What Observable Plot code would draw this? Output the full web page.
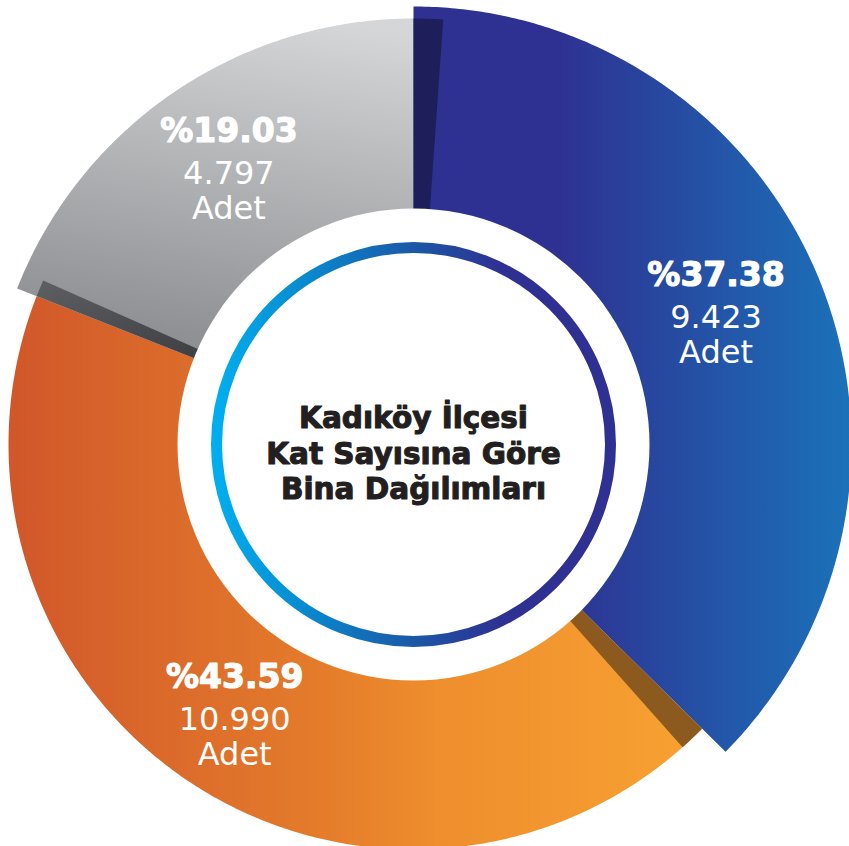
<!DOCTYPE html>
<html><head><meta charset="utf-8">
<script src="https://cdn.jsdelivr.net/npm/d3@7"></script>
<script src="https://cdn.jsdelivr.net/npm/@observablehq/plot@0.6"></script>
<style>html,body{margin:0;padding:0;background:#fff;overflow:hidden}</style>
</head><body><div id="chart"></div>
<script>
// ---- data ----
const counts = [9423, 10990, 4797];
const countLabels = ["9.423", "10.990", "4.797"];
const percentLabels = ["%37.38", "%43.59", "%19.03"];
const unitLabel = "Adet";
const titleLines = ["Kadıköy İlçesi", "Kat Sayısına Göre", "Bina Dağılımları"];

// ---- layout / style ----
const W = 849, H = 846, CX = 413, CY = 444;
const outerR = [438, 405, 426];
const innerR = 226, holeR = 236, ringR = 197, labelR = 328;
const sliceFill = ["url(#g-blue)", "url(#g-orange)", "url(#g-gray)"];
const bandFill = ["#1E1F5A", "#8C5A1F", "url(#g-band)"];
const bandDeg = [4, 3.8, 2.4];
const drawOrder = [1, 2, 0];

const pie = d3.pie().sort(null).value(d => d)(counts);

function sectorPts(a0, a1, r0, r1) {
  const n = Math.max(2, Math.ceil((a1 - a0) / (Math.PI / 360)));
  const pts = [];
  for (let k = 0; k <= n; k++) { const a = a0 + (a1 - a0) * k / n; pts.push({x: r1 * Math.sin(a), y: r1 * Math.cos(a)}); }
  for (let k = n; k >= 0; k--) { const a = a0 + (a1 - a0) * k / n; pts.push({x: r0 * Math.sin(a), y: r0 * Math.cos(a)}); }
  return pts;
}
const mid = d => (d.startAngle + d.endAngle) / 2;

function defs() {
  const d = d3.create("svg:defs");
  const lg = (id, x1, y1, x2, y2, stops) => {
    const g = d.append("linearGradient").attr("id", id)
      .attr("x1", x1).attr("y1", y1).attr("x2", x2).attr("y2", y2);
    stops.forEach(([o, c]) => g.append("stop").attr("offset", o).attr("stop-color", c));
  };
  lg("g-blue", 0, 0, 1, 0, [[0, "#2E3192"], [0.33, "#2E3192"], [1, "#1B72B9"]]);
  lg("g-orange", 0, 0, 1, 0, [[0, "#D1572A"], [0.45, "#E47C2B"], [0.62, "#EE8E2D"], [1, "#F8A232"]]);
  lg("g-gray", 0.75, 0, 0.55, 1, [[0, "#D5D6D8"], [1, "#8B8D90"]]);
  lg("g-band", 0, 0, 1, 1, [[0, "#5E5F62"], [1, "#3D3E42"]]);
  lg("g-ring", 0, 0, 1, 0, [[0, "#00AEEF"], [0.25, "#0A85CB"], [0.5, "#1B58A7"], [0.72, "#2E3192"], [1, "#2E3192"]]);
  return d.node();
}

const marks = [defs];
for (const i of drawOrder) {
  const p = pie[i];
  marks.push(Plot.line(sectorPts(p.startAngle, p.endAngle, innerR, outerR[i]),
    {x: "x", y: "y", fill: sliceFill[i], stroke: "none", curve: "linear"}));
}
for (const i of drawOrder) {
  const p = pie[i];
  const prev = (i + counts.length - 1) % counts.length;
  const r = Math.min(outerR[prev], outerR[i]);
  marks.push(Plot.line(sectorPts(p.startAngle, p.startAngle + bandDeg[i] * Math.PI / 180, innerR, r),
    {x: "x", y: "y", fill: bandFill[i], stroke: "none", curve: "linear"}));
}
marks.push(Plot.dot([0], {x: () => 0, y: () => 0, r: holeR, fill: "white", stroke: "none"}));
marks.push(Plot.dot([0], {x: () => 0, y: () => 0, r: ringR, fill: "none", stroke: "url(#g-ring)", strokeWidth: 11}));

const lx = d => labelR * Math.sin(mid(d)), ly = d => labelR * Math.cos(mid(d));
marks.push(Plot.text(pie, {x: lx, y: ly, text: d => percentLabels[d.index], dy: -42,
  fill: "white", stroke: "white", strokeWidth: 1.2, fontFamily: "DejaVu Sans", fontWeight: "bold", fontSize: 33}));
marks.push(Plot.text(pie, {x: lx, y: ly, text: d => countLabels[d.index],
  fill: "white", fontFamily: "DejaVu Sans", fontSize: 32}));
marks.push(Plot.text(pie, {x: lx, y: ly, text: () => unitLabel, dy: 35,
  fill: "white", fontFamily: "DejaVu Sans", fontSize: 32}));
marks.push(Plot.text([titleLines.join("\n")], {x: () => 0, y: () => 0, text: d => d, dy: 8,
  fill: "#231F20", stroke: "#231F20", strokeWidth: 1.1, fontFamily: "DejaVu Sans", fontWeight: "bold", fontSize: 29.5, lineHeight: 1.2}));

const chart = Plot.plot({
  width: W, height: H, margin: 0,
  x: {domain: [-CX, W - CX], range: [0, W], axis: null},
  y: {domain: [-(H - CY), CY], range: [H, 0], axis: null},
  marks
});
document.getElementById("chart").appendChild(chart);
</script>
</body></html>
